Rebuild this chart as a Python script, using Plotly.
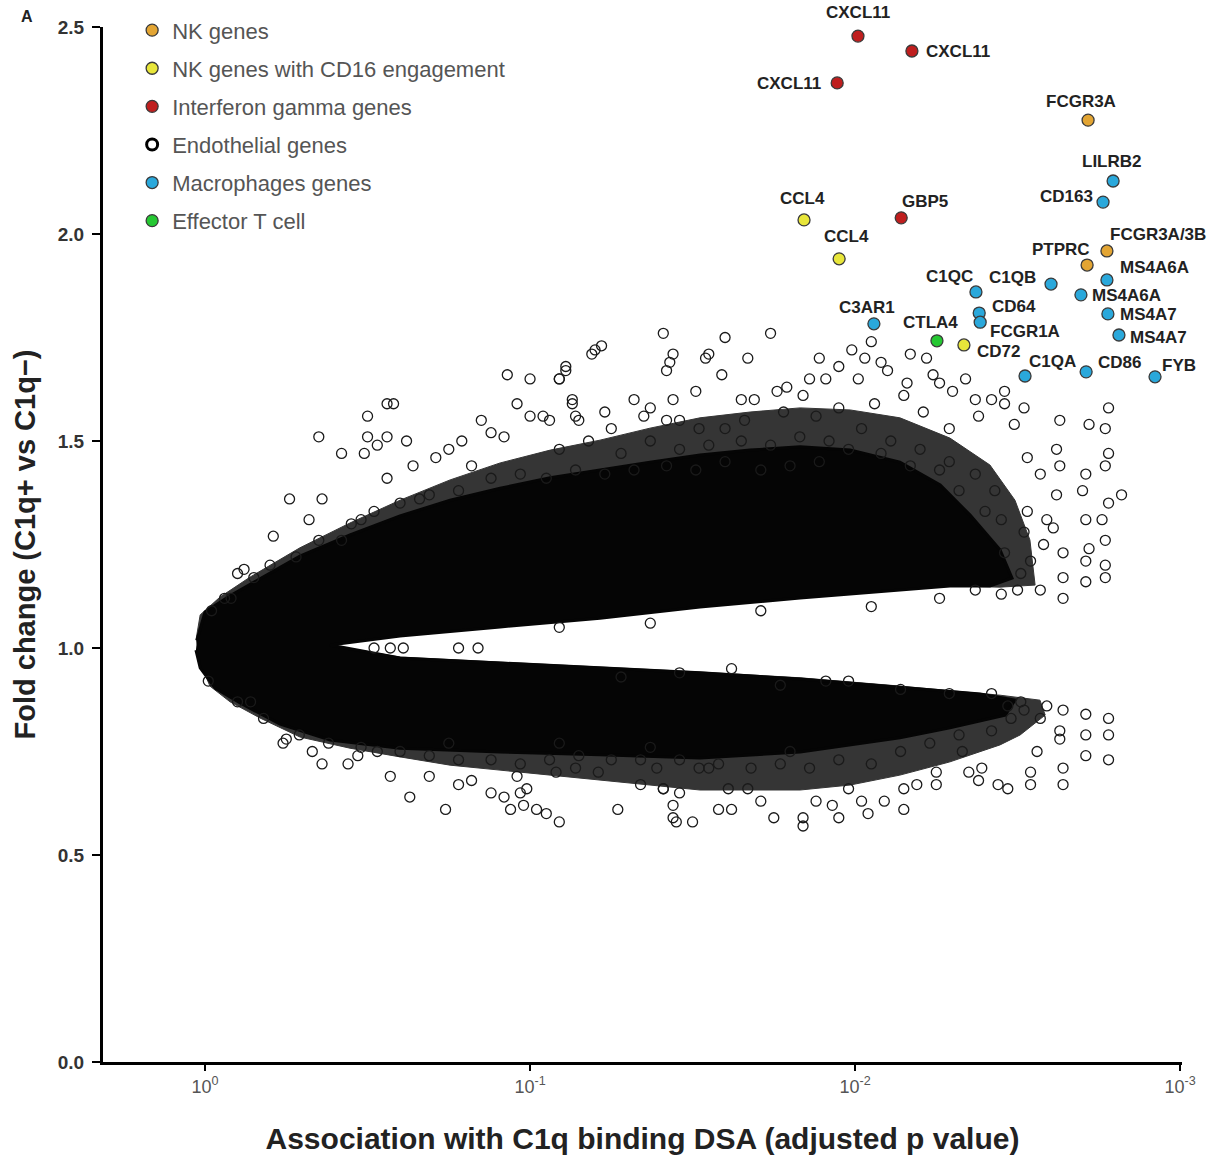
import plotly.graph_objects as go

# ---------------- data ----------------
# x = -log10(adjusted p value), y = fold change (C1q+ vs C1q-)
xtick_vals = [0, 1, 2, 3]
xtick_text = ["10<sup>0</sup>", "10<sup>-1</sup>", "10<sup>-2</sup>", "10<sup>-3</sup>"]
ytick_vals = [0.0, 0.5, 1.0, 1.5, 2.0, 2.5]

# outer extent of the densely overlapping (textured) part of the endothelial gene cloud
band_x = [-0.028, -0.015, 0.046, 0.138, 0.292, 0.446, 0.600, 0.754, 0.908, 1.062, 1.215, 1.369,
          1.523, 1.677, 1.831, 1.985, 2.138, 2.292, 2.415, 2.492, 2.538, 2.554,
          2.446, 2.292, 2.138, 1.831, 1.523, 1.215, 0.908, 0.600, 0.385,
          0.600, 0.908, 1.215, 1.523, 1.831, 2.138, 2.446, 2.569,
          2.585, 2.508, 2.446, 2.292, 2.138, 1.985, 1.831, 1.677, 1.523, 1.369, 1.215, 1.062,
          0.908, 0.754, 0.600, 0.446, 0.292, 0.169, 0.077, 0.015, -0.012]
band_y = [1.019, 1.080, 1.123, 1.171, 1.242, 1.302, 1.357, 1.406, 1.447, 1.478, 1.502, 1.531,
          1.556, 1.570, 1.580, 1.575, 1.556, 1.507, 1.442, 1.357, 1.261, 1.152,
          1.147, 1.150, 1.143, 1.123, 1.101, 1.075, 1.053, 1.031, 1.007,
          0.978, 0.966, 0.954, 0.942, 0.928, 0.908, 0.886, 0.874,
          0.838, 0.790, 0.766, 0.725, 0.693, 0.669, 0.657, 0.657, 0.657, 0.669, 0.681, 0.693,
          0.705, 0.717, 0.737, 0.758, 0.785, 0.831, 0.870, 0.908, 0.959]

# outline of the fully saturated core of the cloud
core_x = [-0.025, 0.000, 0.077, 0.169, 0.292, 0.446, 0.600, 0.754, 0.908, 1.062, 1.215, 1.369,
          1.523, 1.677, 1.831, 1.985, 2.138, 2.262, 2.354, 2.446, 2.483,
          2.415, 2.292, 2.138, 1.831, 1.523, 1.215, 0.908, 0.600, 0.385,
          0.600, 0.908, 1.215, 1.523, 1.831, 2.138, 2.385, 2.492,
          2.462, 2.292, 2.138, 1.831, 1.523, 1.215, 0.908, 0.600, 0.385, 0.231, 0.108, 0.031,
          -0.015, -0.028]
core_y = [1.019, 1.087, 1.126, 1.167, 1.222, 1.273, 1.319, 1.357, 1.386, 1.411, 1.430, 1.449,
          1.466, 1.478, 1.486, 1.478, 1.449, 1.394, 1.321, 1.237, 1.169,
          1.150, 1.150, 1.140, 1.121, 1.099, 1.072, 1.051, 1.029, 1.007,
          0.976, 0.964, 0.952, 0.940, 0.925, 0.906, 0.889, 0.874,
          0.838, 0.807, 0.783, 0.749, 0.734, 0.742, 0.749, 0.758, 0.778, 0.816, 0.867, 0.903,
          0.952, 0.995]

# individually visible endothelial genes
endo_x = [0.10, 0.12, 0.21, 0.02, 0.08, 0.26, 0.32, 0.36, 0.35, 0.42, 0.50, 0.56, 0.58, 0.50, 0.56,
          0.62, 0.49, 0.53, 0.56, 0.64, 0.71, 0.75, 0.79, 0.85, 0.88, 0.92, 0.93, 1.00, 1.09, 1.11,
          1.19, 0.96, 1.13, 1.00, 1.04, 1.14, 0.82, 0.42, 0.48, 0.66,
          1.41, 1.60, 1.74, 1.20, 1.22, 1.11, 1.09, 1.44, 1.43, 1.42, 1.54, 1.55, 1.67, 1.59, 1.89,
          1.99, 2.05, 1.95, 2.03, 2.08, 2.17, 2.22, 1.86, 1.91, 2.01, 2.10, 2.16, 2.24, 2.26, 2.34,
          2.30, 2.37, 2.42, 2.46, 2.46, 2.52, 2.38, 2.49, 2.78, 2.63, 2.72, 2.77, 2.53, 2.62, 2.63,
          2.71, 2.70, 2.77, 2.78, 2.82, 2.78, 2.76, 2.71, 2.77, 2.72, 2.77, 2.77, 2.64, 2.64, 2.59,
          2.52, 2.46, 2.53, 2.57, 2.62, 2.61, 1.13, 1.23, 1.32, 1.37, 1.44, 1.51, 1.65, 1.69, 1.76,
          1.79, 1.84, 1.06, 1.15, 1.25, 1.35, 1.42, 1.46, 1.52, 1.60, 1.66, 1.78, 1.88, 1.95, 2.06,
          2.15, 2.21, 2.29,
          1.09, 1.18, 1.28, 1.37, 1.46, 1.55, 1.65, 1.74, 1.83, 1.92, 2.02, 2.11, 2.20, 2.29, 2.37,
          2.43, 2.45, 2.40, 2.32, 2.26, 2.17, 2.08, 1.98, 1.89, 1.80, 1.71, 1.60, 1.51, 1.42, 1.32,
          1.23, 1.14, 1.05, 0.97, 0.88, 0.78, 0.69, 0.60, 0.52, 0.45, 0.35, 0.28, 0.20, 0.15, 0.06,
          2.51, 2.57, 2.54, 2.58, 2.50, 2.45, 2.71, 2.71, 2.64, 2.37,
          0.52, 0.57, 0.61, 0.78, 0.84,
          1.46, 1.62, 1.98, 1.91, 2.14, 2.42, 2.47, 2.52, 2.59, 2.64, 2.71, 2.78, 2.78, 2.71, 2.63,
          2.63, 2.56, 2.71, 2.78, 2.54, 2.54, 2.64, 2.64, 2.47, 2.44, 2.38, 2.35, 2.39, 2.33, 2.25,
          2.25, 2.19, 2.15, 2.15, 2.09, 2.04, 2.02, 1.95, 1.93, 1.98, 1.84, 1.84, 1.88, 1.75, 1.71,
          1.67, 1.62, 1.58, 1.61, 1.50, 1.45, 1.44, 1.46, 1.41, 1.52, 1.55, 1.39,
          0.01, 0.10, 0.14, 0.18, 0.25, 0.24, 0.33, 0.36, 0.44, 0.47, 0.53, 0.57, 0.63, 0.69, 0.74,
          0.78, 0.82, 0.88, 0.92, 0.96, 0.99, 0.97, 0.94, 0.98, 1.02, 1.05, 1.09, 1.08, 1.14, 1.21,
          1.27, 1.34, 1.41, 1.44,
          0.29, 0.38, 0.48, 0.60, 0.69, 0.78, 0.88, 0.97, 1.06, 1.15, 1.25, 1.34, 1.46, 1.58, 1.68,
          1.77, 1.86, 1.95, 2.05, 2.14, 2.23, 2.32, 2.42, 2.48, 2.51, 2.57, 1.37, 1.80, 1.09, 0.75,
          1.09, 1.37, 1.71, 2.05, 2.26, 1.28, 1.77, 2.29]
endo_y = [1.18, 1.19, 1.27, 1.09, 1.12, 1.36, 1.31, 1.36, 1.51, 1.47, 1.56, 1.59, 1.59, 1.51, 1.51,
          1.50, 1.47, 1.49, 1.41, 1.44, 1.46, 1.48, 1.50, 1.55, 1.52, 1.51, 1.66, 1.65, 1.65, 1.68,
          1.71, 1.59, 1.59, 1.56, 1.56, 1.56, 1.44, 1.26, 1.31, 1.36,
          1.76, 1.75, 1.76, 1.72, 1.73, 1.67, 1.65, 1.71, 1.69, 1.67, 1.70, 1.71, 1.70, 1.66, 1.70,
          1.72, 1.74, 1.68, 1.70, 1.69, 1.71, 1.70, 1.65, 1.65, 1.65, 1.67, 1.64, 1.66, 1.64, 1.65,
          1.62, 1.60, 1.60, 1.62, 1.59, 1.58, 1.56, 1.54, 1.58, 1.55, 1.54, 1.53, 1.46, 1.48, 1.44,
          1.42, 1.38, 1.44, 1.47, 1.37, 1.35, 1.31, 1.31, 1.26, 1.24, 1.20, 1.17, 1.23, 1.17, 1.31,
          1.28, 1.23, 1.33, 1.42, 1.37, 1.29, 1.60, 1.57, 1.60, 1.58, 1.60, 1.62, 1.60, 1.60, 1.62,
          1.63, 1.61, 1.55, 1.55, 1.53, 1.56, 1.55, 1.55, 1.53, 1.53, 1.55, 1.57, 1.56, 1.58, 1.59,
          1.61, 1.57, 1.53,
          1.48, 1.50, 1.47, 1.50, 1.48, 1.49, 1.50, 1.49, 1.51, 1.50, 1.53, 1.50, 1.48, 1.45, 1.42,
          1.38, 1.31, 1.33, 1.38, 1.43, 1.44, 1.47, 1.48, 1.45, 1.44, 1.43, 1.45, 1.43, 1.44, 1.43,
          1.42, 1.43, 1.41, 1.42, 1.41, 1.38, 1.37, 1.35, 1.33, 1.30, 1.26, 1.22, 1.20, 1.17, 1.12,
          1.18, 1.14, 1.21, 1.25, 1.14, 1.13, 1.21, 1.16, 1.12, 1.14,
          1.00, 1.00, 1.00, 1.00, 1.00,
          0.94, 0.95, 0.92, 0.92, 0.90, 0.89, 0.86, 0.85, 0.86, 0.85, 0.84, 0.83, 0.79, 0.79, 0.80,
          0.78, 0.75, 0.74, 0.73, 0.70, 0.67, 0.71, 0.67, 0.66, 0.67, 0.68, 0.70, 0.71, 0.75, 0.67,
          0.70, 0.67, 0.66, 0.61, 0.63, 0.60, 0.63, 0.59, 0.62, 0.66, 0.59, 0.57, 0.63, 0.59, 0.63,
          0.66, 0.61, 0.61, 0.66, 0.58, 0.58, 0.62, 0.65, 0.66, 0.71, 0.71, 0.71,
          0.92, 0.87, 0.87, 0.83, 0.78, 0.77, 0.75, 0.72, 0.72, 0.74, 0.75, 0.69, 0.64, 0.69, 0.61,
          0.67, 0.68, 0.65, 0.64, 0.69, 0.66, 0.65, 0.61, 0.62, 0.61, 0.60, 0.58, 0.70, 0.71, 0.70,
          0.61, 0.67, 0.66, 0.59,
          0.79, 0.77, 0.76, 0.75, 0.74, 0.73, 0.73, 0.72, 0.73, 0.74, 0.73, 0.73, 0.73, 0.72, 0.71,
          0.72, 0.71, 0.73, 0.72, 0.75, 0.77, 0.79, 0.80, 0.83, 0.87, 0.83, 0.76, 0.75, 0.77, 0.77,
          1.05, 1.06, 1.09, 1.10, 1.12, 0.93, 0.91, 0.89]

# highlighted genes by category
nk_genes = ["FCGR3A", "FCGR3A/3B", "PTPRC"]
nk_x = [2.717, 2.775, 2.714]
nk_y = [2.275, 1.959, 1.925]

cd16_genes = ["CCL4", "CCL4", "CD72"]
cd16_x = [1.843, 1.951, 2.335]
cd16_y = [2.034, 1.940, 1.732]

ifng_genes = ["CXCL11", "CXCL11", "CXCL11", "GBP5"]
ifng_x = [2.009, 2.175, 1.945, 2.142]
ifng_y = [2.478, 2.442, 2.365, 2.039]

mac_genes = ["LILRB2", "CD163", "MS4A6A", "C1QB", "C1QC", "MS4A6A", "CD64", "FCGR1A",
             "MS4A7", "MS4A7", "C3AR1", "C1QA", "CD86", "FYB"]
mac_x = [2.794, 2.763, 2.775, 2.603, 2.372, 2.695, 2.382, 2.385, 2.778, 2.812, 2.058, 2.523, 2.711, 2.923]
mac_y = [2.128, 2.077, 1.889, 1.879, 1.860, 1.853, 1.809, 1.787, 1.807, 1.756, 1.783, 1.657, 1.667, 1.655]

teff_genes = ["CTLA4"]
teff_x = [2.252]
teff_y = [1.742]

# ---------------- styling ----------------
# label placement: (xanchor, xshift px, yshift px)
label_pos = {
    ("ifng", 0): ("center", 0, 24), ("ifng", 1): ("left", 12, 0), ("ifng", 2): ("right", -14, -1),
    ("ifng", 3): ("center", 24, 16),
    ("nk", 0): ("center", -7, 19), ("nk", 1): ("left", 1, 16), ("nk", 2): ("right", 5, 16),
    ("cd16", 0): ("center", -2, 21), ("cd16", 1): ("center", 7, 22), ("cd16", 2): ("left", 11, -7),
    ("mac", 0): ("center", -1, 20), ("mac", 1): ("right", -8, 6), ("mac", 2): ("left", 11, 12),
    ("mac", 3): ("right", -13, 7), ("mac", 4): ("right", -1, 15), ("mac", 5): ("left", 9, -1),
    ("mac", 6): ("left", 11, 7), ("mac", 7): ("left", 8, -9), ("mac", 8): ("left", 10, -1),
    ("mac", 9): ("left", 9, -2), ("mac", 10): ("center", -7, 16), ("mac", 11): ("left", 2, 15),
    ("mac", 12): ("left", 10, 9), ("mac", 13): ("left", 5, 11),
    ("teff", 0): ("center", -6, 18),
}

FONT = "Liberation Sans, Arial, Helvetica, sans-serif"
W, H = 1212, 1168
ML, MR, MT, MB = 103, 30, 27, 106

fig = go.Figure()

# textured part of the cloud
fig.add_trace(go.Scatter(x=band_x, y=band_y, mode="lines", fill="toself",
                         fillcolor="#353535", line=dict(color="#353535", width=1),
                         hoverinfo="skip", showlegend=False))
# saturated core
fig.add_trace(go.Scatter(x=core_x, y=core_y, mode="lines", fill="toself",
                         fillcolor="#050505", line=dict(color="#050505", width=3),
                         hoverinfo="skip", showlegend=False))
# visible endothelial genes
fig.add_trace(go.Scatter(x=endo_x, y=endo_y, mode="markers",
                         marker=dict(symbol="circle-open", size=10, color="#1a1a1a",
                                     line=dict(width=1.3)),
                         showlegend=False, hoverinfo="skip"))

groups = [
    ("nk", "NK genes", nk_x, nk_y, nk_genes, "#E3A533", 1),
    ("cd16", "NK genes with CD16 engagement", cd16_x, cd16_y, cd16_genes, "#E8E63A", 2),
    ("ifng", "Interferon gamma genes", ifng_x, ifng_y, ifng_genes, "#BF1E1E", 3),
    ("mac", "Macrophages genes", mac_x, mac_y, mac_genes, "#2AA8DB", 5),
    ("teff", "Effector T cell", teff_x, teff_y, teff_genes, "#25C832", 6),
]
for key, name, xs, ys, genes, col, rank in groups:
    fig.add_trace(go.Scatter(x=xs, y=ys, mode="markers", name=name, text=genes,
                             legendgroup=key, legendrank=rank,
                             marker=dict(symbol="circle", size=12, color=col,
                                         line=dict(color="#3a3a3a", width=1.3))))
# legend entry for endothelial genes (no data of its own)
fig.add_trace(go.Scatter(x=[None], y=[None], mode="markers", name="Endothelial genes",
                         legendgroup="endo", legendrank=4,
                         marker=dict(symbol="circle-open", size=11, color="#000",
                                     line=dict(width=3))))

annotations = []
for key, name, xs, ys, genes, col, rank in groups:
    for i, (gx, gy, g) in enumerate(zip(xs, ys, genes)):
        anc, dx, dy = label_pos[(key, i)]
        annotations.append(dict(x=gx, y=gy, text=g, showarrow=False, xanchor=anc,
                                yanchor="middle", xshift=dx, yshift=dy,
                                font=dict(family=FONT, size=17, color="#222", weight=700)))
annotations.append(dict(xref="paper", yref="paper", x=-0.07, y=1.01, text="A",
                        showarrow=False, xanchor="center", yanchor="middle",
                        font=dict(family=FONT, size=16, color="#222", weight=700)))
# y-axis title
annotations.append(dict(xref="paper", yref="paper", x=-0.0723, y=0.5,
                        text="Fold change (C1q+ vs C1q\u2212)", textangle=-90,
                        showarrow=False, xanchor="center", yanchor="middle",
                        font=dict(family=FONT, size=29, color="#222", weight=700)))

fig.update_layout(
    width=W, height=H,
    margin=dict(l=ML, r=MR, t=MT, b=MB, pad=0, autoexpand=False),
    paper_bgcolor="white", plot_bgcolor="white",
    font=dict(family=FONT, color="#222"),
    annotations=annotations,
    legend=dict(x=0.027, y=0.992, xanchor="left", yanchor="top", yref="container",
                traceorder="grouped", tracegroupgap=6.5,
                font=dict(family=FONT, size=22, color="#555"),
                bgcolor="rgba(0,0,0,0)"),
    xaxis=dict(range=[-0.314, 3.006], tickmode="array", tickvals=xtick_vals, ticktext=xtick_text,
               showgrid=False, zeroline=False, showline=True, linecolor="black", linewidth=3,
               ticks="outside", ticklen=6, tickwidth=2, tickcolor="black",
               tickfont=dict(family=FONT, size=18, color="#555"),
               title=dict(text="Association with C1q binding DSA (adjusted p value)",
                          font=dict(family=FONT, size=30, color="#222", weight=700), standoff=33)),
    yaxis=dict(range=[0, 2.5], tickmode="array", tickvals=ytick_vals, tickformat=".1f",
               showgrid=False, zeroline=False, showline=True, linecolor="black", linewidth=3,
               ticks="outside", ticklen=8, tickwidth=2, tickcolor="black", ticklabelstandoff=4,
               tickfont=dict(family=FONT, size=19, color="#333", weight=700)),
)

fig.write_html("out.html")
